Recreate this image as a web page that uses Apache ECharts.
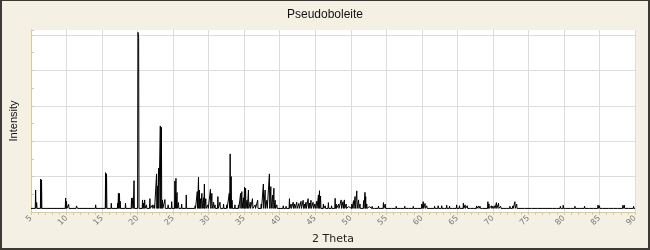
<!DOCTYPE html>
<html>
<head>
<meta charset="utf-8">
<script src="https://cdn.jsdelivr.net/npm/echarts@6/dist/echarts.min.js"></script>
<style>
  html, body { margin: 0; padding: 0; background: #f4f1e4; }
  #chart { position: absolute; left: 0; top: 0; width: 650px; height: 250px; }
  #frame { position: absolute; left: 0; top: 0; width: 650px; height: 250px; box-sizing: border-box;
           border-style: solid; border-color: #3b3a36; border-width: 1px 2px 2px 2px; pointer-events: none; }
</style>
</head>
<body>
<div id="chart"></div>
<div id="frame"></div>
<script>
// ---- Data (2θ in degrees, relative intensity) ----
const chartTitle = 'Pseudoboleite';
const xAxisName = '2 Theta';
const yAxisName = 'Intensity';
const xTicks = [5, 10, 15, 20, 25, 30, 35, 40, 45, 50, 55, 60, 65, 70, 75, 80, 85, 90];
const background = 2;

const peakTheta = [
  5.65, 5.8, 6.37, 6.48, 9.87, 10.0, 10.3, 11.4, 11.5, 14.1,
  15.5, 15.63, 16.3, 17.2, 17.3, 17.45, 17.55, 18.3, 19.15, 19.35, 19.5,
  20.05, 20.15, 20.7, 20.85, 21.0, 21.25, 21.73, 22.1, 22.35,
  22.67, 22.8, 22.95, 23.1, 23.2, 23.35, 23.5, 23.85, 24.3, 24.8,
  25.25, 25.4, 25.55, 25.75, 26.2, 26.85, 28.1,
  28.4, 28.57, 28.7, 28.85, 29.05, 29.28, 29.4, 29.6, 29.9,
  30.25, 30.45, 30.7, 30.9, 31.3, 31.6, 32.1, 32.55,
  32.9, 33.03, 33.17, 33.3, 33.7, 34.2,
  34.5, 34.67, 34.9, 35.05, 35.2, 35.4, 35.6, 35.85,
  36.17, 36.55, 36.9, 37.4, 37.7, 37.95, 38.2,
  38.55, 38.75, 39.0, 39.18, 39.36, 39.6,
  40.1, 40.5, 40.9, 41.37, 41.6, 41.9, 42.1, 42.4, 42.7, 43.0, 43.3, 43.5, 43.7,
  44.0, 44.2, 44.4, 44.7, 44.95, 45.2, 45.45, 45.6, 45.75,
  46.15, 46.4, 46.85, 47.3, 47.8, 47.95, 48.3, 48.65, 48.9, 49.1, 49.35,
  49.7, 50.15, 50.4, 50.6, 50.85, 51.1, 51.3, 51.8, 52.0, 52.1, 52.25,
  52.6, 53.0, 53.4, 53.9, 54.2, 54.6, 54.85,
  55.3, 55.8, 56.4, 57.0, 57.6, 58.2, 58.8, 59.4,
  60.0, 60.2, 60.45, 60.7, 61.2, 61.8, 62.3, 62.8, 63.2, 63.5, 63.9,
  64.4, 64.9, 65.3, 65.85, 66.1, 66.4, 66.9, 67.3, 67.7, 68.0, 68.2, 68.6,
  69.3, 69.45, 69.8, 70.0, 70.25, 70.5, 70.8, 71.1,
  71.6, 72.0, 72.4, 72.8, 73.1, 73.35, 73.6,
  74.5, 75.5, 76.3, 77.1, 77.8, 78.4, 79.0, 79.5, 79.9, 80.3,
  81.0, 81.55, 82.3, 82.9, 83.6, 84.2, 84.8, 85.0, 85.5, 86.3, 87.0, 87.6, 88.3, 88.5, 89.1, 89.8
];
const peakIntensity = [
  12.4, 5.3, 18.6, 18.0, 7.9, 6.0, 4.3, 3.4, 2.8, 4.0,
  22.2, 21.5, 4.9, 5.0, 10.5, 10.5, 6.0, 4.9, 7.9, 8.0, 17.7,
  101.5, 98.5, 6.8, 5.0, 6.8, 4.0, 7.5, 4.0, 4.0,
  21.5, 14.7, 24.7, 26.5, 48.6, 47.8, 6.8, 7.0, 4.0, 5.8,
  17.5, 19.0, 11.0, 5.3, 4.5, 9.6, 3.5,
  11.5, 19.6, 12.4, 7.5, 10.5, 8.0, 15.8, 7.5, 4.0,
  12.8, 10.5, 5.5, 4.0, 8.7, 5.5, 4.5, 4.0,
  10.5, 32.8, 20.0, 6.6, 4.0, 4.0,
  10.5, 11.5, 8.0, 14.0, 13.4, 6.6, 12.4, 5.5,
  7.5, 4.0, 6.6, 4.5, 15.8, 12.4, 6.6,
  21.5, 14.3, 9.6, 13.4, 6.6, 4.0,
  3.0, 3.5, 3.2, 7.5, 4.5, 5.5, 4.5, 5.5, 4.8, 6.0, 6.6, 4.5, 5.5,
  7.5, 5.0, 6.6, 5.5, 4.5, 6.0, 9.6, 12.0, 9.0,
  4.5, 3.5, 5.3, 3.5, 7.7, 4.5, 4.5, 6.8, 5.8, 6.8, 4.5,
  3.0, 4.5, 6.4, 8.7, 11.9, 6.8, 4.5, 6.4, 11.1, 8.7, 4.5,
  3.0, 3.2, 3.0, 3.3, 3.0, 5.3, 4.5,
  3.0, 3.0, 3.2, 3.0, 3.2, 3.0, 3.2, 3.0,
  4.5, 5.8, 4.8, 3.5, 3.0, 3.2, 3.5, 3.5, 3.0, 3.8, 3.3,
  3.0, 4.0, 3.5, 5.0, 4.0, 3.5, 3.0, 3.0, 3.4, 3.4, 3.2, 3.0,
  5.8, 4.5, 3.5, 3.3, 3.5, 5.3, 4.9, 3.2,
  3.0, 3.0, 3.2, 3.4, 5.8, 4.5, 3.0,
  2.5, 2.5, 2.6, 2.8, 2.6, 2.7, 3.0, 3.2, 3.8, 2.8,
  2.6, 3.2, 2.6, 3.2, 2.6, 2.8, 3.9, 3.5, 2.6, 2.7, 2.6, 2.8, 3.8, 3.8, 2.7, 3.2
];

// ---- Build the diffraction profile: each reflection drawn as a narrow spike on the background ----
const halfWidth = 0.05;
const profile = [[xTicks[0], background]];
for (let i = 0; i < peakTheta.length; i++) {
  const t = peakTheta[i];
  const prev = i > 0 ? peakTheta[i - 1] : -Infinity;
  const next = i < peakTheta.length - 1 ? peakTheta[i + 1] : Infinity;
  if (t - prev > 2 * halfWidth) profile.push([t - halfWidth, background]);
  profile.push([t, peakIntensity[i]]);
  if (next - t > 2 * halfWidth) profile.push([t + halfWidth, background]);
}
profile.push([xTicks[xTicks.length - 1], background]);

const axisYellow = '#d6cd91';
const gridGrey = '#dcdcdc';

const chart = echarts.init(document.getElementById('chart'), null, { renderer: 'canvas' });
chart.setOption({
  animation: false,
  backgroundColor: '#f4f1e4',
  title: {
    text: chartTitle,
    left: 'center',
    top: 4,
    textStyle: { fontFamily: 'Liberation Sans', fontSize: 12, fontWeight: 'normal', color: '#111' }
  },
  grid: {
    left: 30, right: 15, top: 30, bottom: 38,
    show: true, backgroundColor: '#ffffff', borderWidth: 0
  },
  xAxis: {
    type: 'value',
    min: xTicks[0], max: xTicks[xTicks.length - 1], interval: xTicks[1] - xTicks[0],
    name: xAxisName, nameLocation: 'middle', nameGap: 18,
    nameTextStyle: { fontFamily: 'DejaVu Sans', fontSize: 11, color: '#222' },
    axisLine: { show: true, onZero: false, lineStyle: { color: axisYellow, width: 1 } },
    axisTick: { show: true, length: 3, lineStyle: { color: axisYellow } },
    minorTick: { show: true, splitNumber: 5, length: 3, lineStyle: { color: axisYellow } },
    axisLabel: { rotate: 45, margin: 5, fontFamily: 'DejaVu Sans', fontSize: 8, color: '#777',
                 formatter: v => String(v) },
    splitLine: { show: true, lineStyle: { color: gridGrey, width: 1 } }
  },
  yAxis: {
    type: 'value',
    min: 0, max: 102.8, interval: 20,
    name: yAxisName, nameLocation: 'middle', nameGap: 12,
    nameTextStyle: { fontFamily: 'Liberation Sans', fontSize: 11, color: '#111' },
    axisLine: { show: true, lineStyle: { color: axisYellow, width: 1 } },
    axisTick: { show: true, inside: true, length: 3, lineStyle: { color: axisYellow } },
    minorTick: { show: true, splitNumber: 2, length: 3, lineStyle: { color: axisYellow } },
    axisLabel: { show: false },
    splitLine: { show: true, showMaxLine: false, lineStyle: { color: gridGrey, width: 1 } }
  },
  series: [{
    type: 'line',
    data: profile,
    showSymbol: false,
    symbol: 'none',
    lineStyle: { color: '#000', width: 1 },
    clip: true
  }]
});
</script>
</body>
</html>
